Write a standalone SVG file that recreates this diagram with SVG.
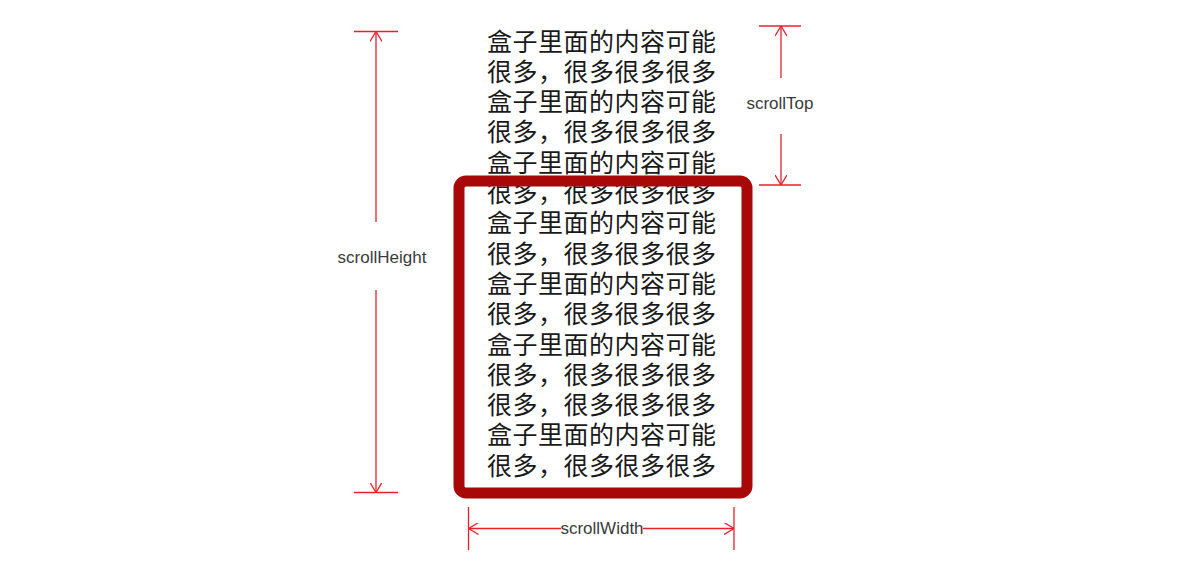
<svg xmlns="http://www.w3.org/2000/svg" width="1204" height="586" viewBox="0 0 1204 586">
  <style>
    .cjk { font-family: "Noto Sans CJK SC", "Noto Sans CJK JP", sans-serif; font-size: 25px; letter-spacing: 0.5px; fill: #1a1a1a; }
    .lbl { font-family: "Liberation Sans", Arial, sans-serif; font-size: 17px; fill: #3a3a3a; text-anchor: middle; }
    .dim { stroke: #e8202a; stroke-width: 1.3; fill: none; }
    .arr { marker-end: url(#arrow); }
    .arrs { marker-start: url(#arrow); }
  </style>
  <defs>
    <marker id="arrow" viewBox="0 0 10 12" refX="10" refY="6" markerWidth="10" markerHeight="12" markerUnits="userSpaceOnUse" orient="auto-start-reverse">
      <path d="M0,0 L10,6 L0,12" fill="none" stroke="#e8202a" stroke-width="1.3"/>
    </marker>
  </defs>
  <rect width="1204" height="586" fill="#ffffff"/>

  <g id="content-text">
    <text class="cjk" x="487" y="50.5"><tspan x="487" y="50.5">盒子里面的内容可能</tspan><tspan x="487" y="80.8">很多，很多很多很多</tspan><tspan x="487" y="111.1">盒子里面的内容可能</tspan><tspan x="487" y="141.4">很多，很多很多很多</tspan><tspan x="487" y="171.7">盒子里面的内容可能</tspan><tspan x="487" y="202">很多，很多很多很多</tspan><tspan x="487" y="232.3">盒子里面的内容可能</tspan><tspan x="487" y="262.6">很多，很多很多很多</tspan><tspan x="487" y="292.9">盒子里面的内容可能</tspan><tspan x="487" y="323.2">很多，很多很多很多</tspan><tspan x="487" y="353.5">盒子里面的内容可能</tspan><tspan x="487" y="383.8">很多，很多很多很多</tspan><tspan x="487" y="414.1">很多，很多很多很多</tspan><tspan x="487" y="444.4">盒子里面的内容可能</tspan><tspan x="487" y="474.7">很多，很多很多很多</tspan></text>
  </g>

  <g id="visible-box">
    <rect x="459" y="181" width="288" height="312" rx="7" ry="7" fill="none" stroke="#a80808" stroke-width="11"/>
  </g>

  <g id="connectors">
    <g id="dim-scrollHeight">
      <line class="dim" x1="354" y1="31.5" x2="398" y2="31.5"/>
      <line class="dim" x1="354" y1="492.5" x2="398" y2="492.5"/>
      <line class="dim arrs" x1="376" y1="31.5" x2="376" y2="222"/>
      <line class="dim arr" x1="376" y1="290" x2="376" y2="492.5"/>
    </g>
    <g id="dim-scrollTop">
      <line class="dim" x1="759" y1="26" x2="801" y2="26"/>
      <line class="dim" x1="759" y1="185" x2="801" y2="185"/>
      <line class="dim arrs" x1="781" y1="26" x2="781" y2="78"/>
      <line class="dim arr" x1="781" y1="134" x2="781" y2="185"/>
    </g>
    <g id="dim-scrollWidth">
      <line class="dim" x1="468.5" y1="507" x2="468.5" y2="550"/>
      <line class="dim" x1="734" y1="507" x2="734" y2="550"/>
      <line class="dim arrs" x1="468.5" y1="528.5" x2="561" y2="528.5"/>
      <line class="dim arr" x1="643" y1="528.5" x2="734" y2="528.5"/>
    </g>
  </g>

  <g id="labels">
    <text id="label-scrollHeight" class="lbl" x="382" y="263">scrollHeight</text>
    <text id="label-scrollTop" class="lbl" x="780" y="109">scrollTop</text>
    <text id="label-scrollWidth" class="lbl" x="602" y="533.5">scrollWidth</text>
  </g>
</svg>
